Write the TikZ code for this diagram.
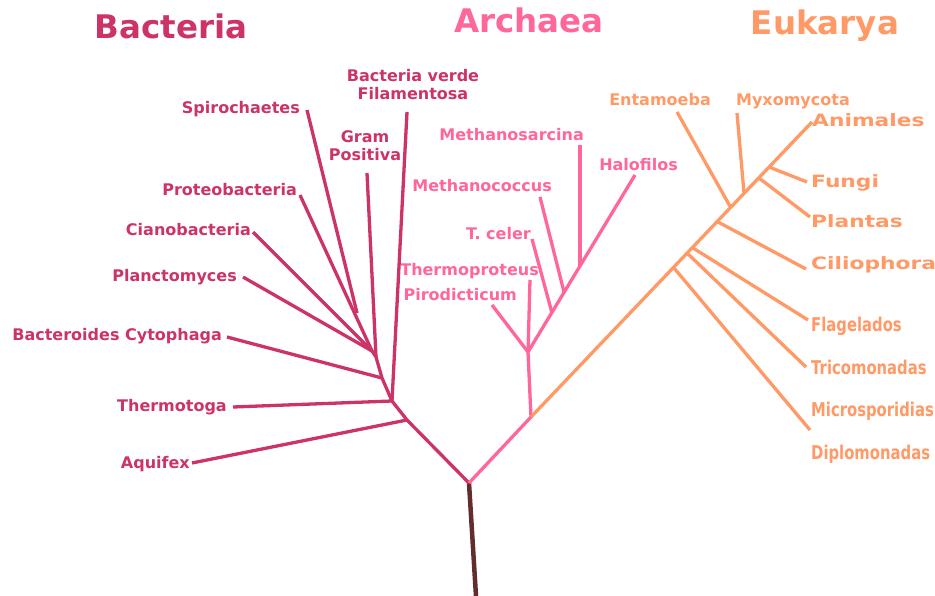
\documentclass[tikz,border=0pt]{standalone}
\usepackage{fontspec}
\setmainfont{DejaVu Sans}
\newfontfamily\widefont[FakeStretch=1.28]{DejaVu Sans}
\newfontfamily\narrowfont[FakeStretch=0.78]{DejaVu Sans}
\definecolor{treeB}{RGB}{204,51,102}
\definecolor{treeA}{RGB}{255,102,153}
\definecolor{treeE}{RGB}{255,153,102}
\definecolor{treeR}{RGB}{100,45,45}

\begin{document}
\begin{tikzpicture}[x=1pt,y=-1pt,
  branch/.style={line width=3.3pt},
  lab/.style={font=\fontsize{16}{18}\selectfont\bfseries,inner sep=0pt},
  biglab/.style={font=\fontsize{17}{19}\selectfont\widefont\bfseries,inner sep=0pt,anchor=mid west},
  slimlab/.style={font=\fontsize{19}{21}\selectfont\narrowfont\bfseries,inner sep=0pt,anchor=mid west},
  title/.style={font=\fontsize{32.5}{35}\selectfont\bfseries,inner sep=0pt}]
\useasboundingbox (0,0) rectangle (935,596);
% titles
\node[title,treeB] (tB) at (171,26) {Bacteria};
\node[title,treeA] (tA) at (529,20) {Archaea};
\node[title,treeE] (tE) at (825,26) {Eukarya};
% junctions
\coordinate (root) at (469,483);
\coordinate (base) at (476,596);
\coordinate (bAq) at (407,420);
\coordinate (bTh) at (392,401);
\coordinate (bBC) at (382,378);
\coordinate (bGP) at (376,357);
\coordinate (bPr) at (372,351);
\coordinate (bSp) at (357,313);
\coordinate (aR) at (531,417);
\coordinate (aP) at (528,352);
\coordinate (aTc) at (552,313);
\coordinate (aMc) at (564,292);
\coordinate (aMs) at (580,266);
\coordinate (eD) at (674,268);
\coordinate (eT) at (687,253);
\coordinate (eF) at (693,248);
\coordinate (eC) at (718,222);
\coordinate (eEn) at (731,208);
\coordinate (eMx) at (744,193);
\coordinate (ePl) at (759,178);
\coordinate (eFu) at (769,167);
% tips
\coordinate (spiroT) at (307,110);
\coordinate (verdeT) at (407,112);
\coordinate (gramT) at (367,173);
\coordinate (proteoT) at (300,195);
\coordinate (cianoT) at (253,232);
\coordinate (planctoT) at (243,277);
\coordinate (bacterT) at (227,337);
\coordinate (thermoT) at (233,407);
\coordinate (aquiT) at (192,463);
\coordinate (sarcT) at (580,145);
\coordinate (haloT) at (635,175);
\coordinate (coccT) at (540,197);
\coordinate (celerT) at (532,239);
\coordinate (proteusT) at (530,280);
\coordinate (piroT) at (492,305);
\coordinate (entaT) at (677,112);
\coordinate (myxoT) at (737,113);
\coordinate (animT) at (812,122);
\coordinate (fungiT) at (807,182);
\coordinate (plantT) at (810,217);
\coordinate (ciliT) at (806,269);
\coordinate (flagT) at (808,320);
\coordinate (tricoT) at (806,367);
\coordinate (diploT) at (810,430);
% labels
\node[lab,treeB,align=center] (verde) at (413,85) {Bacteria verde\\Filamentosa};
\node[lab,treeB,anchor=mid east] (spiro) at (300,111) {Spirochaetes};
\node[lab,treeB,align=center] (gram) at (365,146) {Gram\\Positiva};
\node[lab,treeB,anchor=mid east] (proteo) at (297,193) {Proteobacteria};
\node[lab,treeB,anchor=mid east] (ciano) at (251,233) {Cianobacteria};
\node[lab,treeB,anchor=mid east] (plancto) at (237,279) {Planctomyces};
\node[lab,treeB,anchor=mid east] (bacter) at (222,338) {Bacteroides Cytophaga};
\node[lab,treeB,anchor=mid east] (thermo) at (227,409) {Thermotoga};
\node[lab,treeB,anchor=mid east] (aqui) at (190,466) {Aquifex};
\node[lab,treeA,anchor=mid east] (sarc) at (584,138) {Methanosarcina};
\node[lab,treeA,anchor=mid east] (halo) at (678,168) {Halofilos};
\node[lab,treeA,anchor=mid east] (cocc) at (552,189) {Methanococcus};
\node[lab,treeA,anchor=mid east] (celer) at (531,237) {T. celer};
\node[lab,treeA,anchor=mid east] (proteus) at (539,273) {Thermoproteus};
\node[lab,treeA,anchor=mid east] (piro) at (517,298) {Pirodicticum};
\node[lab,treeE,anchor=mid east] (enta) at (711,103) {Entamoeba};
\node[lab,treeE,anchor=mid east] (myxo) at (850,103) {Myxomycota};
\node[biglab,treeE] (anim) at (812,124) {Animales};
\node[biglab,treeE] (fungi) at (811,185) {Fungi};
\node[biglab,treeE] (plant) at (811,225) {Plantas};
\node[biglab,treeE] (cili) at (811,267) {Ciliophora};
\node[slimlab,treeE] (flag) at (811,329) {Flagelados};
\node[slimlab,treeE] (trico) at (811,372) {Tricomonadas};
\node[slimlab,treeE] (micro) at (811,414) {Microsporidias};
\node[slimlab,treeE] (diplo) at (811,457) {Diplomonadas};
% trunk
\draw[line width=4.5pt,treeR] (base) -- (root);
% bacteria
\draw[branch,treeB] (root) -- (bAq) -- (bTh) -- (bBC) -- (bGP) -- (bPr);
\draw[branch,treeB] (aquiT) -- (bAq);
\draw[branch,treeB] (thermoT) -- (bTh);
\draw[branch,treeB] (verdeT) -- (bTh);
\draw[branch,treeB] (bacterT) -- (bBC);
\draw[branch,treeB] (gramT) -- (bGP);
\draw[branch,treeB] (planctoT) -- (bPr);
\draw[branch,treeB] (cianoT) -- (bPr);
\draw[branch,treeB] (proteoT) -- (bPr);
\draw[branch,treeB] (spiroT) -- (bSp);
% archaea
\draw[branch,treeA] (root) -- (aR) -- (aP) -- (haloT);
\draw[branch,treeA] (piroT) -- (aP);
\draw[branch,treeA] (proteusT) -- (aP);
\draw[branch,treeA] (celerT) -- (aTc);
\draw[branch,treeA] (coccT) -- (aMc);
\draw[branch,treeA] (sarcT) -- (aMs);
% eukarya
\draw[branch,treeE] (aR) -- (animT);
\draw[branch,treeE] (eD) -- (diploT);
\draw[branch,treeE] (eT) -- (tricoT);
\draw[branch,treeE] (eF) -- (flagT);
\draw[branch,treeE] (eC) -- (ciliT);
\draw[branch,treeE] (eEn) -- (entaT);
\draw[branch,treeE] (eMx) -- (myxoT);
\draw[branch,treeE] (ePl) -- (plantT);
\draw[branch,treeE] (eFu) -- (fungiT);
\end{tikzpicture}
\end{document}
